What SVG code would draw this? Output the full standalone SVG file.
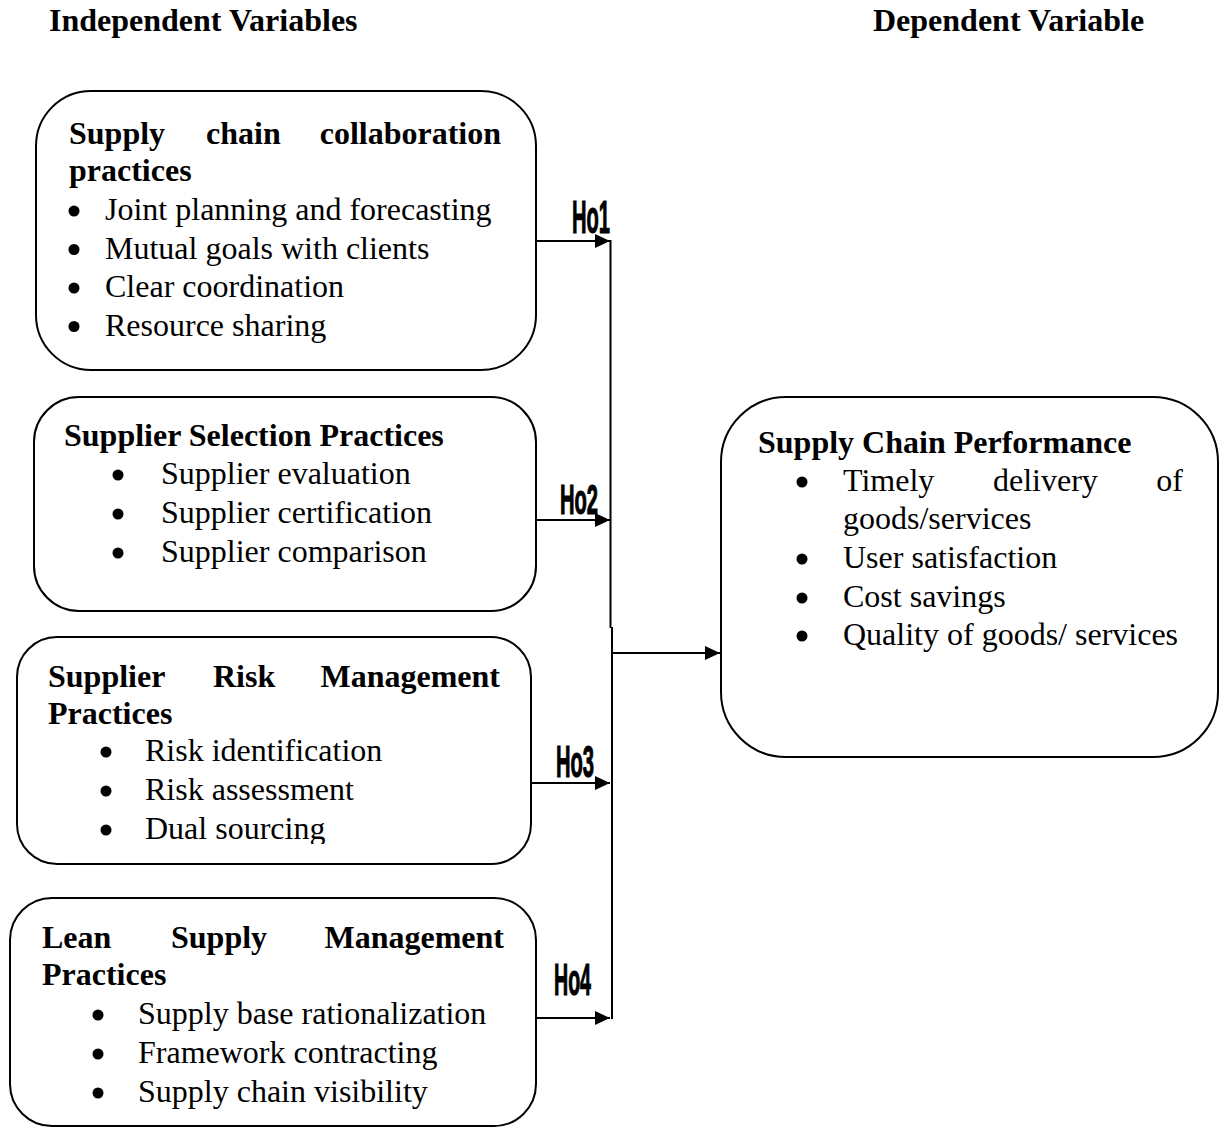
<svg xmlns="http://www.w3.org/2000/svg" width="1220" height="1128" viewBox="0 0 1220 1128">
<style>
  .box { fill: #ffffff; stroke: #000000; stroke-width: 2; }
  .t { font-family: "Liberation Serif", "Times New Roman", serif; font-size: 32px; fill: #000000; }
  .b { font-family: "Liberation Serif", "Times New Roman", serif; font-size: 32px; font-weight: bold; fill: #000000; }
  .ho { font-family: "Liberation Sans", Arial, sans-serif; font-weight: bold; fill: #000000; stroke: #000000; stroke-width: 1.2; }
  .ln { fill: none; stroke: #000000; stroke-width: 2; }
  .dot { fill: #000000; }
  .e { text-anchor: end; }
</style>
<defs>
  <marker id="arr" markerUnits="userSpaceOnUse" markerWidth="16" markerHeight="15" refX="15" refY="7" orient="auto">
    <path d="M0,0 L15,7 L0,14 z" fill="#000000"/>
  </marker>
  <clipPath id="clipDual"><rect x="0" y="800" width="600" height="44"/></clipPath>
</defs>
<rect width="1220" height="1128" fill="#ffffff"/>

<g id="titles">
  <text class="b" x="49" y="31">Independent Variables</text>
  <text class="b" x="873" y="31">Dependent Variable</text>
</g>

<g id="connectors">
  <line class="ln" x1="536" y1="241" x2="610" y2="241" marker-end="url(#arr)"/>
  <line class="ln" x1="536" y1="520" x2="610" y2="520" marker-end="url(#arr)"/>
  <line class="ln" x1="531" y1="783" x2="610" y2="783" marker-end="url(#arr)"/>
  <line class="ln" x1="536" y1="1018" x2="610" y2="1018" marker-end="url(#arr)"/>
  <path class="ln" d="M610.5,240 V628 M612,627 V1019"/>
  <line class="ln" x1="612" y1="653" x2="720" y2="653" marker-end="url(#arr)"/>
  <text class="ho" x="572" y="233" font-size="47" textLength="38" lengthAdjust="spacingAndGlyphs">Ho1</text>
  <text class="ho" x="560" y="514" font-size="42" textLength="38" lengthAdjust="spacingAndGlyphs">Ho2</text>
  <text class="ho" x="556" y="777" font-size="45" textLength="38" lengthAdjust="spacingAndGlyphs">Ho3</text>
  <text class="ho" x="554" y="995" font-size="45" textLength="37" lengthAdjust="spacingAndGlyphs">Ho4</text>
</g>

<g id="node-collaboration">
  <rect class="box" x="36" y="91" width="500" height="279" rx="55" ry="55"/>
  <text class="b" x="69" y="144">Supply</text>
  <text class="b" x="206" y="144">chain</text>
  <text class="b e" x="501" y="144">collaboration</text>
  <text class="b" x="69" y="181">practices</text>
  <circle class="dot" cx="74" cy="211" r="5.5"/><text class="t" x="105" y="220">Joint planning and forecasting</text>
  <circle class="dot" cx="74" cy="249.5" r="5.5"/><text class="t" x="105" y="258.5">Mutual goals with clients</text>
  <circle class="dot" cx="74" cy="288" r="5.5"/><text class="t" x="105" y="297">Clear coordination</text>
  <circle class="dot" cx="74" cy="326.5" r="5.5"/><text class="t" x="105" y="335.5">Resource sharing</text>
</g>

<g id="node-selection">
  <rect class="box" x="34" y="397" width="502" height="214" rx="45" ry="45"/>
  <text class="b" x="64" y="446">Supplier Selection Practices</text>
  <circle class="dot" cx="118" cy="475" r="5.5"/><text class="t" x="161" y="484">Supplier evaluation</text>
  <circle class="dot" cx="118" cy="514" r="5.5"/><text class="t" x="161" y="523">Supplier certification</text>
  <circle class="dot" cx="118" cy="553" r="5.5"/><text class="t" x="161" y="562">Supplier comparison</text>
</g>

<g id="node-risk">
  <rect class="box" x="17" y="637" width="514" height="227" rx="40" ry="40"/>
  <text class="b" x="48" y="687">Supplier</text>
  <text class="b" x="213" y="687">Risk</text>
  <text class="b e" x="500" y="687">Management</text>
  <text class="b" x="48" y="724">Practices</text>
  <circle class="dot" cx="106" cy="752" r="5.5"/><text class="t" x="145" y="761">Risk identification</text>
  <circle class="dot" cx="106" cy="791" r="5.5"/><text class="t" x="145" y="800">Risk assessment</text>
  <g clip-path="url(#clipDual)">
    <circle class="dot" cx="106" cy="830" r="5.5"/><text class="t" x="145" y="839">Dual sourcing</text>
  </g>
</g>

<g id="node-lean">
  <rect class="box" x="10" y="898" width="526" height="228" rx="42" ry="42"/>
  <text class="b" x="42" y="948">Lean</text>
  <text class="b" x="171" y="948">Supply</text>
  <text class="b e" x="504" y="948">Management</text>
  <text class="b" x="42" y="985">Practices</text>
  <circle class="dot" cx="98" cy="1015" r="5.5"/><text class="t" x="138" y="1024">Supply base rationalization</text>
  <circle class="dot" cx="98" cy="1054" r="5.5"/><text class="t" x="138" y="1063">Framework contracting</text>
  <circle class="dot" cx="98" cy="1093" r="5.5"/><text class="t" x="138" y="1102">Supply chain visibility</text>
</g>

<g id="node-performance">
  <rect class="box" x="721" y="397" width="497" height="360" rx="65" ry="65"/>
  <text class="b" x="758" y="453">Supply Chain Performance</text>
  <circle class="dot" cx="802" cy="482" r="5.5"/>
  <text class="t" x="843" y="491">Timely</text>
  <text class="t" x="993" y="491">delivery</text>
  <text class="t e" x="1183" y="491">of</text>
  <text class="t" x="843" y="529">goods/services</text>
  <circle class="dot" cx="802" cy="559" r="5.5"/><text class="t" x="843" y="568">User satisfaction</text>
  <circle class="dot" cx="802" cy="598" r="5.5"/><text class="t" x="843" y="607">Cost savings</text>
  <circle class="dot" cx="802" cy="636" r="5.5"/><text class="t" x="843" y="645">Quality of goods/ services</text>
</g>
</svg>
